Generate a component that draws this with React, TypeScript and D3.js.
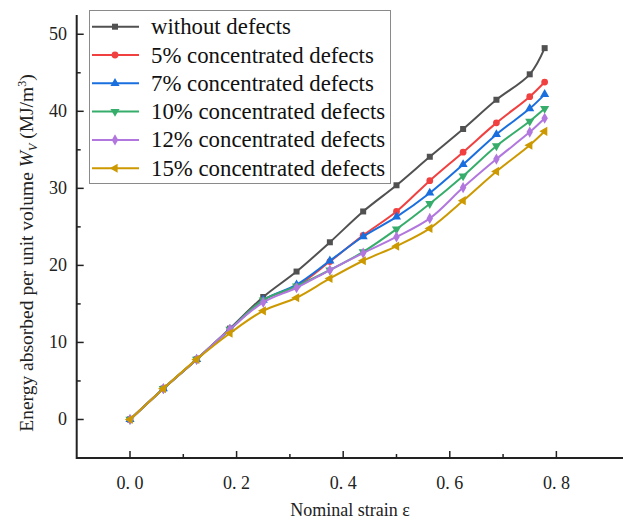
import React from "react";
import * as d3 from "d3";

const strain = [0, 0.0625, 0.125, 0.1875, 0.25, 0.3125, 0.375, 0.4375, 0.5, 0.5625, 0.625, 0.6875, 0.75, 0.778];
const withoutDefects = [0, 4, 7.8, 11.8, 15.9, 19.2, 23.0, 27.0, 30.4, 34.1, 37.7, 41.5, 44.8, 48.2];
const defects5 = [0, 4, 7.8, 11.7, 15.5, 17.3, 20.5, 23.9, 27.0, 31.0, 34.7, 38.5, 41.9, 43.8];
const defects7 = [0, 4, 7.8, 11.7, 15.5, 17.5, 20.6, 23.75, 26.3, 29.4, 33.1, 37.0, 40.35, 42.2];
const defects10 = [0, 4, 7.8, 11.7, 15.5, 17.3, 19.4, 21.75, 24.7, 28.0, 31.6, 35.5, 38.7, 40.35];
const defects12 = [0, 4, 7.8, 11.7, 15.2, 17.1, 19.4, 21.6, 23.7, 26.1, 30.1, 33.8, 37.3, 39.1];
const defects15 = [0, 4, 7.8, 11.2, 14.1, 15.8, 18.3, 20.6, 22.5, 24.8, 28.4, 32.2, 35.6, 37.4];

const seriesNames = [
  "without defects",
  "5% concentrated defects",
  "7% concentrated defects",
  "10% concentrated defects",
  "12% concentrated defects",
  "15% concentrated defects",
];
const seriesValues = [withoutDefects, defects5, defects7, defects10, defects12, defects15];
const colors = ["#515151", "#F14040", "#1A6FDF", "#37AD6B", "#B177DE", "#CC9900"];

const xMajorTicks = [0, 0.2, 0.4, 0.6, 0.8];
const xTickLabels = ["0. 0", "0. 2", "0. 4", "0. 6", "0. 8"];
const xMinorTicks = [0.1, 0.3, 0.5, 0.7];
const yMajorTicks = [0, 10, 20, 30, 40, 50];
const yMinorTicks = [5, 15, 25, 35, 45];

const FONT = "'Liberation Serif', 'Times New Roman', serif";

function markerPath(i: number, size: number) {
  const types = [d3.symbolSquare, d3.symbolCircle, d3.symbolTriangle, d3.symbolTriangle, d3.symbolDiamond, d3.symbolTriangle];
  return d3.symbol().type(types[i]).size(size)() as string;
}
const markerRot = [0, 0, 0, 180, 0, -90];

export default function App() {
  const W = 623, H = 522;
  const x = d3.scaleLinear().domain([-0.1, 0.925]).range([76.7, 623]);
  const y = d3.scaleLinear().domain([-5, 52.5]).range([458, 15]);
  const line = d3
    .line<[number, number]>()
    .x((d) => x(d[0]))
    .y((d) => y(d[1]))
    .curve(d3.curveCatmullRom.alpha(0.5));

  const x0 = x.range()[0];
  const yb = y.range()[0];

  return (
    <svg width={W} height={H} style={{ position: "absolute", left: 0, top: 0, background: "#fff" }} fontFamily={FONT}>
      {/* series */}
      {seriesValues.map((vals, si) => {
        const pts = strain.map((s, i) => [s, vals[i]] as [number, number]);
        return (
          <g key={si}>
            <path d={line(pts) as string} fill="none" stroke={colors[si]} strokeWidth={2} />
            {pts.map((p, i) => (
              <path
                key={i}
                d={markerPath(si, 36)}
                transform={`translate(${x(p[0])},${y(p[1])}) rotate(${markerRot[si]})`}
                fill={colors[si]}
              />
            ))}
          </g>
        );
      })}

      {/* axes */}
      <line x1={x0} x2={W} y1={yb} y2={yb} stroke="#222" strokeWidth={2} />
      <line x1={x0} x2={x0} y1={y.range()[1]} y2={yb + 1} stroke="#222" strokeWidth={2} />
      {xMajorTicks.map((t, i) => (
        <g key={"xm" + i}>
          <line x1={x(t)} x2={x(t)} y1={yb} y2={yb - 7} stroke="#222" strokeWidth={1.5} />
          <text x={x(t)} y={yb + 31} textAnchor="middle" fontSize={18} fill="#222">
            {xTickLabels[i]}
          </text>
        </g>
      ))}
      {xMinorTicks.map((t, i) => (
        <line key={"xn" + i} x1={x(t)} x2={x(t)} y1={yb} y2={yb - 4} stroke="#222" strokeWidth={1.5} />
      ))}
      {yMajorTicks.map((t, i) => (
        <g key={"ym" + i}>
          <line x1={x0} x2={x0 + 7} y1={y(t)} y2={y(t)} stroke="#222" strokeWidth={1.5} />
          <text x={67} y={y(t) + 6} textAnchor="end" fontSize={18} fill="#222">
            {t}
          </text>
        </g>
      ))}
      {yMinorTicks.map((t, i) => (
        <line key={"yn" + i} x1={x0} x2={x0 + 4} y1={y(t)} y2={y(t)} stroke="#222" strokeWidth={1.5} />
      ))}

      {/* axis titles */}
      <text x={350} y={516} textAnchor="middle" fontSize={18} fill="#222">
        Nominal strain ε
      </text>
      <text transform="translate(33,253) rotate(-90)" textAnchor="middle" fontSize={19.5} fill="#222">
        <tspan>Energy absorbed per unit volume </tspan>
        <tspan fontStyle="italic">W</tspan>
        <tspan fontStyle="italic" fontSize={12} dy={4}>V</tspan>
        <tspan dy={-4}> (MJ/m</tspan>
        <tspan fontSize={12} dy={-7}>3</tspan>
        <tspan dy={7}>)</tspan>
      </text>

      {/* legend */}
      <rect x={89.5} y={10.5} width={301} height={173} fill="#fff" stroke="#8a8a8a" strokeWidth={1} />
      {seriesNames.map((name, i) => {
        const ry = 26.7 + i * 28.3;
        return (
          <g key={"lg" + i}>
            <line x1={92} x2={139} y1={ry} y2={ry} stroke={colors[i]} strokeWidth={2} />
            <path d={markerPath(i, 36)} transform={`translate(115,${ry}) rotate(${markerRot[i]})`} fill={colors[i]} />
            <text x={151} y={ry + 7.5} fontSize={22.8} fill="#111">
              {name}
            </text>
          </g>
        );
      })}
    </svg>
  );
}
